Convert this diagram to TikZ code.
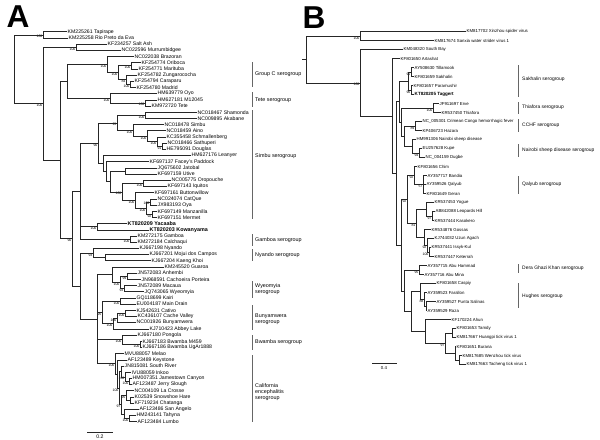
\documentclass[tikz,border=0pt]{standalone}
\usepackage{fontspec}
\setmainfont{Liberation Sans}
\usetikzlibrary{calc}

% internal node: name, x, first child, last child, bootstrap
\newcommand{\clade}[5]{%
	\path ($(#3)!0.5!(#4)$) coordinate (#1-mid);
	\coordinate (#1) at (#2,0 |- #1-mid);
	\node[boot] at (#1) {#5};}

\begin{document}
\begin{tikzpicture}[
		x=0.03cm, y=-0.03cm,
		% Define styles for the tree
		leaf/.style={
				anchor=west,
				inner sep=0.4pt,
				font=\fontsize{4.4}{5}\selectfont
			},
		leafb/.style={
				leaf,
				font=\fontsize{3.7}{4.2}\selectfont
			},
		newvirus/.style={
				leaf,
				font=\fontsize{4.6}{5}\selectfont\bfseries
			},
		newvirusb/.style={
				leaf,
				font=\fontsize{3.9}{4.4}\selectfont\bfseries
			},
		boot/.style={
				anchor=north east,
				inner sep=0.3pt,
				font=\fontsize{3}{3.2}\selectfont
			},
		branch/.style={
				line width=0.5pt,
				draw=black!85
			},
		groupbar/.style={
				line width=0.5pt,
				draw=black!60
			},
		grouplabel/.style={
				anchor=west,
				inner sep=0pt,
				align=left,
				font=\fontsize{4.6}{5.4}\selectfont
			},
		grouplabelb/.style={
				grouplabel,
				font=\fontsize{4.2}{5}\selectfont
			},
		panel/.style={
				font=\fontsize{27}{27}\selectfont\bfseries
			}
	]
	\useasboundingbox (0,0) rectangle (600,439);

	% Panel letters
	\node[panel] (panela) at (18,17) {A};
	\node[panel] (panelb) at (314,18) {B};

	% PANEL A: taxa
	\node[leaf] (tapirape) at (67,31.7) {KM225261 Tapirape};
	\node[leaf] (riopreto) at (68,37.9) {KM225258 Rio Preto da Eva};
	\node[leaf] (saltash) at (107,44.1) {KF234257 Salt Ash};
	\node[leaf] (murrumb) at (121,50.3) {NC022596 Murrumbidgee};
	\node[leaf] (brazoran) at (134,56.5) {NC022038 Brazoran};
	\node[leaf] (oriboca) at (141,62.7) {KF254774 Oriboca};
	\node[leaf] (marituba) at (138,68.8) {KF254771 Marituba};
	\node[leaf] (zungaro) at (137,75.0) {KF254782 Zungarococha};
	\node[leaf] (caraparu) at (134,81.2) {KF254794 Caraparu};
	\node[leaf] (madrid) at (136,87.4) {KF254780 Madrid};
	\node[leaf] (oyo) at (157,93.6) {HM639779 Oyo};
	\node[leaf] (m12045) at (157,99.8) {HM627181 M12045};
	\node[leaf] (tete) at (151,106.0) {KM972720 Tete};
	\node[leaf] (shamonda) at (197,112.2) {NC018467 Shamonda};
	\node[leaf] (akabane) at (197,118.4) {NC009895 Akabane};
	\node[leaf] (simbu) at (164,124.6) {NC018478 Simbu};
	\node[leaf] (aino) at (166,130.7) {NC018459 Aino};
	\node[leaf] (schmall) at (166,136.9) {KC355458 Schmallenberg};
	\node[leaf] (sathuperi) at (167,143.1) {NC018466 Sathuperi};
	\node[leaf] (douglas) at (166,149.3) {HE795091 Douglas};
	\node[leaf] (leanyer) at (191,155.5) {HM627176 Leanyer};
	\node[leaf] (facey) at (149,161.7) {KF697137 Facey's Paddock};
	\node[leaf] (jatobal) at (157,167.9) {JQ675602 Jatobal};
	\node[leaf] (utive) at (157,174.1) {KF697159 Utive};
	\node[leaf] (oropouche) at (171,180.3) {NC005775 Oropouche};
	\node[leaf] (iquitos) at (167,186.5) {KF697143 Iquitos};
	\node[leaf] (buttonw) at (154,192.6) {KF697161 Buttonwillow};
	\node[leaf] (catque) at (157,198.8) {NC024074 CatQue};
	\node[leaf] (oya) at (157,205.0) {JX983193 Oya};
	\node[leaf] (manzan) at (157,211.2) {KF697149 Manzanilla};
	\node[leaf] (mermet) at (157,217.4) {KF697151 Mermet};
	\node[newvirus] (yacaaba) at (127,223.6) {KT820209 Yacaaba};
	\node[newvirus] (kowanyama) at (149,229.8) {KT820203 Kowanyama};
	\node[leaf] (gamboa) at (137,236.0) {KM272175 Gamboa};
	\node[leaf] (calchaqui) at (137,242.2) {KM272184 Calchaqui};
	\node[leaf] (nyando) at (139,248.4) {KJ667198 Nyando};
	\node[leaf] (mojui) at (149,254.5) {KJ667201 Mojui dos Campos};
	\node[leaf] (kaengkhoi) at (151,260.7) {KJ667204 Kaeng Khoi};
	\node[leaf] (guaroa) at (164,266.9) {KM245520 Guaroa};
	\node[leaf] (anhembi) at (137,273.1) {JN572083 Anhembi};
	\node[leaf] (cachoeira) at (141,279.3) {JN968591 Cachoeira Porteira};
	\node[leaf] (macaua) at (137,285.5) {JN572089 Macaua};
	\node[leaf] (wyeomyia) at (144,291.7) {JQ743065 Wyeomyia};
	\node[leaf] (kairi) at (136,297.9) {GQ118699 Kairi};
	\node[leaf] (maindrain) at (136,304.1) {EU004187 Main Drain};
	\node[leaf] (cativo) at (136,310.3) {KJ542631 Cativo};
	\node[leaf] (cachevalley) at (137,316.4) {KC436107 Cache Valley};
	\node[leaf] (bunyamwera) at (136,322.6) {NC001926 Bunyamwera};
	\node[leaf] (abbeylake) at (149,328.8) {KJ710423 Abbey Lake};
	\node[leaf] (pongola) at (137,335.0) {KJ667180 Pongola};
	\node[leaf] (bwambam) at (142,341.2) {KJ667183 Bwamba M459};
	\node[leaf] (bwambau) at (142,347.4) {KJ667186 Bwamba UgAr1888};
	\node[leaf] (melao) at (124,353.6) {MVU88057 Melao};
	\node[leaf] (keystone) at (127,359.8) {AF123489 Keystone};
	\node[leaf] (southriver) at (124,366.0) {JN815081 South River};
	\node[leaf] (inkoo) at (131,372.2) {IVU88059 Inkoo};
	\node[leaf] (jamestown) at (132,378.3) {HM007351 Jamestown Canyon};
	\node[leaf] (jerryslough) at (132,384.5) {AF123487 Jerry Slough};
	\node[leaf] (lacrosse) at (134,390.7) {NC004109 La Crosse};
	\node[leaf] (snowshoe) at (134,396.9) {K02539 Snowshoe Hare};
	\node[leaf] (chatanga) at (134,403.1) {KF719234 Chatanga};
	\node[leaf] (sanangelo) at (139,409.3) {AF123486 San Angelo};
	\node[leaf] (tahyna) at (136,415.5) {HM243141 Tahyna};
	\node[leaf] (lumbo) at (137,421.7) {AF123484 Lumbo};

	% PANEL A: clades
	\clade{tr}{43}{tapirape}{riopreto}{100}
	\clade{sm}{76}{saltash}{murrumb}{100}
	\clade{om}{131}{oriboca}{marituba}{100}
	\clade{cm}{130}{caraparu}{madrid}{100}
	\clade{zcm}{126}{zungaro}{cm}{84}
	\clade{c2}{118}{om}{zcm}{100}
	\clade{grpc}{107}{brazoran}{c2}{100}
	\clade{mt}{145}{m12045}{tete}{100}
	\clade{te}{110}{oyo}{mt}{100}
	\clade{u}{67}{grpc}{te}{}
	\clade{sa}{145}{shamonda}{akabane}{100}
	\clade{se}{162}{sathuperi}{douglas}{91}
	\clade{sd}{157}{schmall}{se}{100}
	\clade{sc}{147}{aino}{sd}{100}
	\clade{sb}{133}{simbu}{sc}{100}
	\clade{sa0}{117}{sa}{sb}{95}
	\clade{ju}{125}{jatobal}{utive}{}
	\clade{oi}{143}{oropouche}{iquitos}{100}
	\clade{co}{150}{catque}{oya}{100}
	\clade{mm}{152}{manzan}{mermet}{92}
	\clade{sk}{146}{co}{mm}{100}
	\clade{sbu}{135}{buttonw}{sk}{100}
	\clade{sh}{122}{oi}{sbu}{100}
	\clade{sg}{110}{ju}{sh}{}
	\clade{sf}{106}{facey}{sg}{}
	\clade{sl}{103}{leanyer}{sf}{}
	\clade{simbugrp}{98}{sa0}{sl}{90}
	\clade{yk}{97}{yacaaba}{kowanyama}{100}
	\clade{gc}{130}{gamboa}{calchaqui}{100}
	\clade{lup}{80}{simbugrp}{gc}{}
	\clade{mk}{105}{mojui}{kaengkhoi}{}
	\clade{ny}{93}{nyando}{mk}{93}
	\clade{w3}{127}{anhembi}{cachoeira}{99}
	\clade{w4}{124}{macaua}{wyeomyia}{93}
	\clade{w2}{120}{w3}{w4}{100}
	\clade{wy}{112}{guaroa}{w2}{}
	\clade{km}{120}{kairi}{maindrain}{100}
	\clade{bu3}{125}{cativo}{cachevalley}{100}
	\clade{bu2}{117}{bu3}{bunyamwera}{100}
	\clade{bu}{113}{bu2}{abbeylake}{100}
	\clade{kb}{102}{km}{bu}{95}
	\clade{bw2}{140}{bwambam}{bwambau}{100}
	\clade{bw}{122}{pongola}{bw2}{100}
	\clade{cg}{129}{jamestown}{jerryslough}{100}
	\clade{cf}{125}{inkoo}{cg}{100}
	\clade{cd}{121}{southriver}{cf}{}
	\clade{ci}{130}{snowshoe}{chatanga}{}
	\clade{ch}{126}{lacrosse}{ci}{95}
	\clade{ck}{129}{tahyna}{lumbo}{100}
	\clade{cj}{124}{sanangelo}{ck}{}
	\clade{ce}{121}{ch}{cj}{97}
	\clade{cc}{119}{cd}{ce}{100}
	\clade{cb}{117}{keystone}{cc}{}
	\clade{ca}{115}{melao}{cb}{100}
	\clade{w}{97}{wy}{ca}{}
	\clade{ldown}{80}{ny}{w}{}
	\clade{l}{72}{lup}{ldown}{90}
	\clade{i2}{60}{u}{l}{}
	\clade{i1}{43}{sm}{i2}{100}
	\clade{roota}{14}{tr}{i1}{}

	% PANEL A: branches
	\draw[branch] (tr) |- (tapirape.west) (tr) |- (riopreto.west);
	\draw[branch] (sm) |- (saltash.west) (sm) |- (murrumb.west);
	\draw[branch] (om) |- (oriboca.west) (om) |- (marituba.west);
	\draw[branch] (cm) |- (caraparu.west) (cm) |- (madrid.west);
	\draw[branch] (zcm) |- (zungaro.west) (zcm) |- (cm);
	\draw[branch] (c2) |- (om) (c2) |- (zcm);
	\draw[branch] (grpc) |- (brazoran.west) (grpc) |- (c2);
	\draw[branch] (mt) |- (m12045.west) (mt) |- (tete.west);
	\draw[branch] (te) |- (oyo.west) (te) |- (mt);
	\draw[branch] (u) |- (grpc) (u) |- (te);
	\draw[branch] (sa) |- (shamonda.west) (sa) |- (akabane.west);
	\draw[branch] (se) |- (sathuperi.west) (se) |- (douglas.west);
	\draw[branch] (sd) |- (schmall.west) (sd) |- (se);
	\draw[branch] (sc) |- (aino.west) (sc) |- (sd);
	\draw[branch] (sb) |- (simbu.west) (sb) |- (sc);
	\draw[branch] (sa0) |- (sa) (sa0) |- (sb);
	\draw[branch] (ju) |- (jatobal.west) (ju) |- (utive.west);
	\draw[branch] (oi) |- (oropouche.west) (oi) |- (iquitos.west);
	\draw[branch] (co) |- (catque.west) (co) |- (oya.west);
	\draw[branch] (mm) |- (manzan.west) (mm) |- (mermet.west);
	\draw[branch] (sk) |- (co) (sk) |- (mm);
	\draw[branch] (sbu) |- (buttonw.west) (sbu) |- (sk);
	\draw[branch] (sh) |- (oi) (sh) |- (sbu);
	\draw[branch] (sg) |- (ju) (sg) |- (sh);
	\draw[branch] (sf) |- (facey.west) (sf) |- (sg);
	\draw[branch] (sl) |- (leanyer.west) (sl) |- (sf);
	\draw[branch] (simbugrp) |- (sa0) (simbugrp) |- (sl);
	\draw[branch] (yk) |- (yacaaba.west) (yk) |- (kowanyama.west);
	\draw[branch] (gc) |- (gamboa.west) (gc) |- (calchaqui.west);
	\draw[branch] (lup) |- (simbugrp) (lup) |- (yk) (lup) |- (gc);
	\draw[branch] (mk) |- (mojui.west) (mk) |- (kaengkhoi.west);
	\draw[branch] (ny) |- (nyando.west) (ny) |- (mk);
	\draw[branch] (w3) |- (anhembi.west) (w3) |- (cachoeira.west);
	\draw[branch] (w4) |- (macaua.west) (w4) |- (wyeomyia.west);
	\draw[branch] (w2) |- (w3) (w2) |- (w4);
	\draw[branch] (wy) |- (guaroa.west) (wy) |- (w2);
	\draw[branch] (km) |- (kairi.west) (km) |- (maindrain.west);
	\draw[branch] (bu3) |- (cativo.west) (bu3) |- (cachevalley.west);
	\draw[branch] (bu2) |- (bu3) (bu2) |- (bunyamwera.west);
	\draw[branch] (bu) |- (bu2) (bu) |- (abbeylake.west);
	\draw[branch] (kb) |- (km) (kb) |- (bu);
	\draw[branch] (bw2) |- (bwambam.west) (bw2) |- (bwambau.west);
	\draw[branch] (bw) |- (pongola.west) (bw) |- (bw2);
	\draw[branch] (cg) |- (jamestown.west) (cg) |- (jerryslough.west);
	\draw[branch] (cf) |- (inkoo.west) (cf) |- (cg);
	\draw[branch] (cd) |- (southriver.west) (cd) |- (cf);
	\draw[branch] (ci) |- (snowshoe.west) (ci) |- (chatanga.west);
	\draw[branch] (ch) |- (lacrosse.west) (ch) |- (ci);
	\draw[branch] (ck) |- (tahyna.west) (ck) |- (lumbo.west);
	\draw[branch] (cj) |- (sanangelo.west) (cj) |- (ck);
	\draw[branch] (ce) |- (ch) (ce) |- (cj);
	\draw[branch] (cc) |- (cd) (cc) |- (ce);
	\draw[branch] (cb) |- (keystone.west) (cb) |- (cc);
	\draw[branch] (ca) |- (melao.west) (ca) |- (cb);
	\draw[branch] (w) |- (wy) (w) |- (kb) (w) |- (bw) (w) |- (ca);
	\draw[branch] (ldown) |- (ny) (ldown) |- (w);
	\draw[branch] (l) |- (lup) (l) |- (ldown);
	\draw[branch] (i2) |- (u) (i2) |- (l);
	\draw[branch] (i1) |- (sm) (i1) |- (i2);
	\draw[branch] (roota) |- (tr) (roota) |- (i1);

	% PANEL A: serogroups
	\draw[groupbar] (252,62) -- (252,87);
	\node[grouplabel] (grpclabel) at (255,74) {Group C serogroup};
	\draw[groupbar] (252,92) -- (252,107);
	\node[grouplabel] (tetelabel) at (255,100) {Tete serogroup};
	\draw[groupbar] (252,110) -- (252,219);
	\node[grouplabel] (simbulabel) at (255,156) {Simbu serogroup};
	\draw[groupbar] (252,234) -- (252,246);
	\node[grouplabel] (gamboalabel) at (255,240) {Gamboa serogroup};
	\draw[groupbar] (252,249) -- (252,261);
	\node[grouplabel] (nyandolabel) at (255,255) {Nyando serogroup};
	\draw[groupbar] (252,281) -- (252,298);
	\node[grouplabel] (wyeomyialabel) at (255,289) {Wyeomyia\\serogroup};
	\draw[groupbar] (252,305) -- (252,330);
	\node[grouplabel] (bunyalabel) at (255,319) {Bunyamwera\\serogroup};
	\draw[groupbar] (252,335) -- (252,350);
	\node[grouplabel] (bwambalabel) at (255,342) {Bwamba serogroup};
	\draw[groupbar] (252,355) -- (252,422);
	\node[grouplabel] (califlabel) at (255,392) {California\\encephalitis\\serogroup};

	% PANEL A: scale
	\draw[branch] (87,432) -- (113,432);
	\node[leaf, anchor=center] (scalea) at (100,437) {0.2};

	% PANEL B: taxa
	\node[leafb] (xinzhou) at (466,31.7) {KM817702 Xinzhou spider virus};
	\node[leafb] (sanxia) at (434,40.7) {KM817674 Sanxia water strider virus 1};
	\node[leafb] (southbay) at (403,49.7) {KM048320 South Bay};
	\node[leafb] (artashat) at (400,58.7) {KF801650 Artashat};
	\node[leafb] (tillamook) at (414,67.7) {AY508630 Tillamook};
	\node[leafb] (sakhalin) at (414,76.7) {KF801659 Sakhalin};
	\node[leafb] (paramushir) at (413,85.7) {KF801657 Paramushir};
	\node[newvirusb] (taggert) at (414,94.7) {KT820205 Taggert};
	\node[leafb] (erve) at (439,103.7) {JF911697 Erve};
	\node[leafb] (thiafora) at (441,112.7) {KR537450 Thiafora};
	\node[leafb] (cchf) at (422,121.7) {NC\_005301 Crimean Congo hemorrhagic fever};
	\node[leafb] (hazara) at (422,130.7) {KP406723 Hazara};
	\node[leafb] (nairobi) at (416,139.7) {HM991306 Nairobi sheep disease};
	\node[leafb] (kupe) at (422,148.7) {EU257628 Kupe};
	\node[leafb] (dugbe) at (425,157.7) {NC\_004159 Dugbe};
	\node[leafb] (chim) at (417,166.7) {KF801656 Chim};
	\node[leafb] (bandia) at (427,175.7) {AY357717 Bandia};
	\node[leafb] (qalyub) at (426,184.7) {AY359526 Qalyub};
	\node[leafb] (geran) at (426,193.7) {KF801649 Geran};
	\node[leafb] (yogue) at (434,202.7) {KR537453 Yogue};
	\node[leafb] (leopards) at (435,211.7) {AB842088 Leopards Hill};
	\node[leafb] (kasokero) at (434,220.7) {KR537444 Kasokero};
	\node[leafb] (gossas) at (431,229.7) {KR534876 Gossas};
	\node[leafb] (uzunagach) at (434,238.7) {KJ744032 Uzun Agach};
	\node[leafb] (issykkul) at (431,247.7) {KR537441 Issyk-Kul};
	\node[leafb] (keterrah) at (434,256.7) {KR537447 Keterrah};
	\node[leafb] (abuhammad) at (427,265.7) {AY357715 Abu Hammad};
	\node[leafb] (abumina) at (424,274.7) {AY357716 Abu Mina};
	\node[leafb] (caspiy) at (436,283.7) {KF801658 Caspiy};
	\node[leafb] (farallon) at (427,292.7) {AY359523 Farallon};
	\node[leafb] (puntasalinas) at (436,301.7) {AY359527 Punta Salinas};
	\node[leafb] (raza) at (427,310.7) {AY359529 Raza};
	\node[leafb] (ahun) at (451,319.7) {KF170224 Ahun};
	\node[leafb] (tamdy) at (456,328.7) {KF801653 Tamdy};
	\node[leafb] (huangpi) at (456,337.7) {KM817667 Huangpi tick virus 1};
	\node[leafb] (burana) at (456,346.7) {KF801651 Burana};
	\node[leafb] (wenzhou) at (462,355.7) {KM817685 Wenzhou tick virus};
	\node[leafb] (tacheng) at (466,364.7) {KM817663 Tacheng tick virus 1};

	% PANEL B: clades
	\clade{bxs}{360}{xinzhou}{sanxia}{100}
	\clade{bs2}{411}{tillamook}{sakhalin}{90}
	\clade{bs3}{411}{paramushir}{taggert}{96}
	\clade{bs1}{408}{bs2}{bs3}{}
	\clade{bth}{433}{erve}{thiafora}{100}
	\clade{bcc}{415}{cchf}{hazara}{89}
	\clade{bnk}{419}{kupe}{dugbe}{94}
	\clade{bnsd}{412}{nairobi}{bnk}{}
	\clade{bub3}{404}{bcc}{bnsd}{}
	\clade{bub2}{401}{bth}{bub3}{}
	\clade{bub}{399}{bs1}{bub2}{}
	\clade{bq2}{423}{bandia}{geran}{57}
	\clade{bq1}{414}{chim}{bq2}{92}
	\clade{by3}{432}{leopards}{kasokero}{97}
	\clade{by2}{426}{yogue}{by3}{}
	\clade{by6}{429}{issykkul}{keterrah}{100}
	\clade{by5}{427}{uzunagach}{by6}{92}
	\clade{by4}{424}{gossas}{by5}{}
	\clade{by1}{416}{by2}{by4}{81}
	\clade{bqy}{407}{bq1}{by1}{92}
	\clade{bd1}{419}{abuhammad}{abumina}{95}
	\clade{bh3}{426}{puntasalinas}{raza}{}
	\clade{bh2}{424}{farallon}{bh3}{88}
	\clade{bh1}{420}{caspiy}{bh2}{}
	\clade{bt3}{452}{tamdy}{huangpi}{}
	\clade{bt5}{459}{wenzhou}{tacheng}{}
	\clade{bt4}{455}{burana}{bt5}{}
	\clade{bt2}{445}{bt3}{bt4}{97}
	\clade{bt1}{425}{ahun}{bt2}{}
	\clade{bht}{411}{bh1}{bt1}{}
	\clade{bdht}{404}{bd1}{bht}{}
	\clade{blb}{401}{bqy}{bdht}{}
	\clade{bn3}{396}{bub}{blb}{}
	\clade{bn2}{392}{artashat}{bn3}{}
	\clade{bn1}{360}{southbay}{bn2}{100}
	\clade{rootb}{306}{bxs}{bn1}{}
	\coordinate (rootb-stub) at ($(rootb)+(-4,0)$);

	% PANEL B: branches
	\draw[branch] (bxs) |- (xinzhou.west) (bxs) |- (sanxia.west);
	\draw[branch] (bs2) |- (tillamook.west) (bs2) |- (sakhalin.west);
	\draw[branch] (bs3) |- (paramushir.west) (bs3) |- (taggert.west);
	\draw[branch] (bs1) |- (bs2) (bs1) |- (bs3);
	\draw[branch] (bth) |- (erve.west) (bth) |- (thiafora.west);
	\draw[branch] (bcc) |- (cchf.west) (bcc) |- (hazara.west);
	\draw[branch] (bnk) |- (kupe.west) (bnk) |- (dugbe.west);
	\draw[branch] (bnsd) |- (nairobi.west) (bnsd) |- (bnk);
	\draw[branch] (bub3) |- (bcc) (bub3) |- (bnsd);
	\draw[branch] (bub2) |- (bth) (bub2) |- (bub3);
	\draw[branch] (bub) |- (bs1) (bub) |- (bub2);
	\draw[branch] (bq2) |- (bandia.west) (bq2) |- (qalyub.west) (bq2) |- (geran.west);
	\draw[branch] (bq1) |- (chim.west) (bq1) |- (bq2);
	\draw[branch] (by3) |- (leopards.west) (by3) |- (kasokero.west);
	\draw[branch] (by2) |- (yogue.west) (by2) |- (by3);
	\draw[branch] (by6) |- (issykkul.west) (by6) |- (keterrah.west);
	\draw[branch] (by5) |- (uzunagach.west) (by5) |- (by6);
	\draw[branch] (by4) |- (gossas.west) (by4) |- (by5);
	\draw[branch] (by1) |- (by2) (by1) |- (by4);
	\draw[branch] (bqy) |- (bq1) (bqy) |- (by1);
	\draw[branch] (bd1) |- (abuhammad.west) (bd1) |- (abumina.west);
	\draw[branch] (bh3) |- (puntasalinas.west) (bh3) |- (raza.west);
	\draw[branch] (bh2) |- (farallon.west) (bh2) |- (bh3);
	\draw[branch] (bh1) |- (caspiy.west) (bh1) |- (bh2);
	\draw[branch] (bt3) |- (tamdy.west) (bt3) |- (huangpi.west);
	\draw[branch] (bt5) |- (wenzhou.west) (bt5) |- (tacheng.west);
	\draw[branch] (bt4) |- (burana.west) (bt4) |- (bt5);
	\draw[branch] (bt2) |- (bt3) (bt2) |- (bt4);
	\draw[branch] (bt1) |- (ahun.west) (bt1) |- (bt2);
	\draw[branch] (bht) |- (bh1) (bht) |- (bt1);
	\draw[branch] (bdht) |- (bd1) (bdht) |- (bht);
	\draw[branch] (blb) |- (bqy) (blb) |- (bdht);
	\draw[branch] (bn3) |- (bub) (bn3) |- (blb);
	\draw[branch] (bn2) |- (artashat.west) (bn2) |- (bn3);
	\draw[branch] (bn1) |- (southbay.west) (bn1) |- (bn2);
	\draw[branch] (rootb) |- (bxs) (rootb) |- (bn1);
	\draw[branch] (rootb) -- (rootb-stub);

	% PANEL B: serogroups
	\draw[groupbar] (518,65) -- (518,97);
	\node[grouplabelb] (sakhalinlabel) at (522,79) {Sakhalin serogroup};
	\draw[groupbar] (518,102) -- (518,114);
	\node[grouplabelb] (thiaforalabel) at (522,107) {Thiafora serogroup};
	\draw[groupbar] (518,119) -- (518,132);
	\node[grouplabelb] (cchflabel) at (522,125) {CCHF serogroup};
	\draw[groupbar] (518,144) -- (518,157);
	\node[grouplabelb] (nsdlabel) at (522,150) {Nairobi sheep disease serogroup};
	\draw[groupbar] (518,176) -- (518,194);
	\node[grouplabelb] (qalyublabel) at (522,184) {Qalyub serogroup};
	\draw[groupbar] (518,264) -- (518,273);
	\node[grouplabelb] (deralabel) at (522,268) {Dera Ghazi Khan serogroup};
	\draw[groupbar] (518,283) -- (518,308);
	\node[grouplabelb] (hugheslabel) at (522,296) {Hughes serogroup};

	% PANEL B: scale
	\draw[branch] (372,363) -- (397,363);
	\node[leafb, anchor=center] (scaleb) at (384,368) {0.4};

\end{tikzpicture}
\end{document}
